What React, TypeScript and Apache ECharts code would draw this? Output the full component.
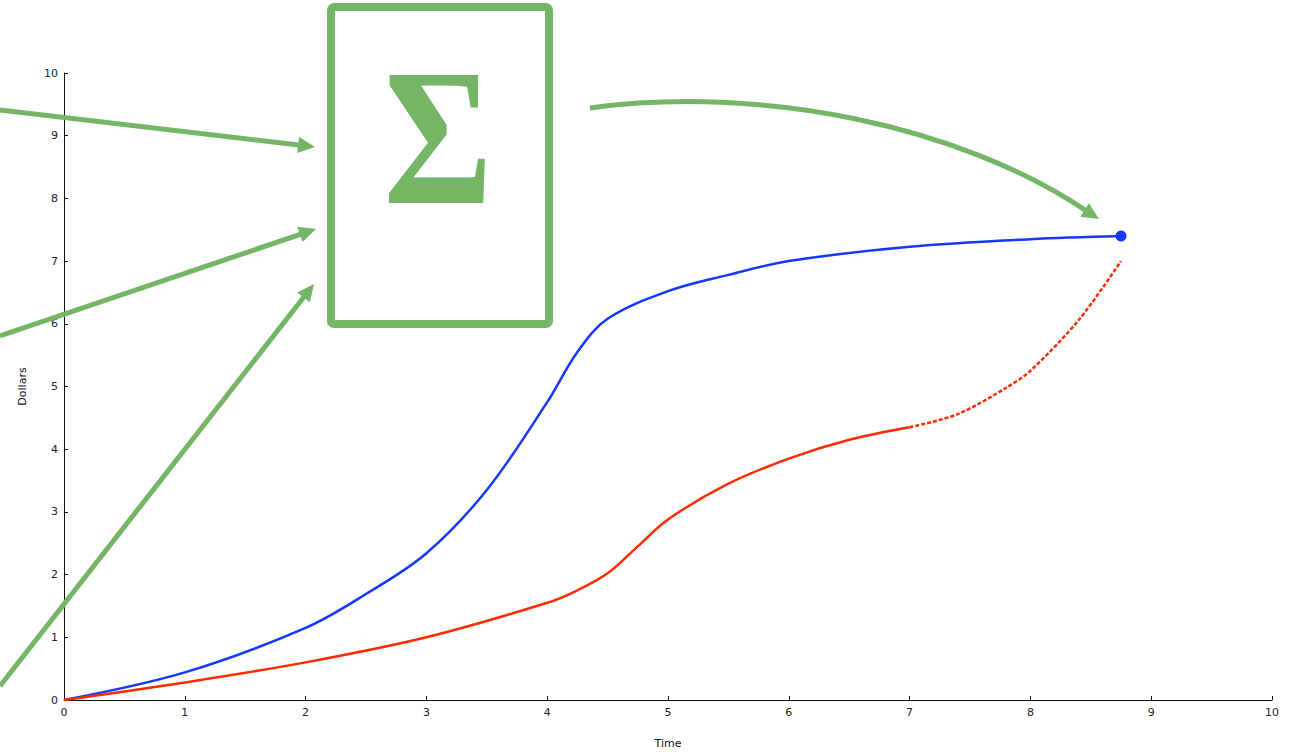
import React, { useEffect, useRef } from "react";
import * as echarts from "echarts";

const xTicks = [0, 1, 2, 3, 4, 5, 6, 7, 8, 9, 10];
const blueX = [0, 1, 2, 2.5, 3, 3.5, 4, 4.25, 4.5, 5, 5.5, 6, 7, 8, 8.75];
const blueY = [0, 0.44, 1.15, 1.69, 2.34, 3.35, 4.75, 5.55, 6.08, 6.52, 6.78, 7.0, 7.23, 7.35, 7.4];
const redX = [0, 1, 2, 3, 4, 4.25, 4.5, 4.75, 5, 5.5, 6, 6.5, 7];
const redY = [0, 0.28, 0.6, 1.0, 1.55, 1.75, 2.02, 2.45, 2.88, 3.45, 3.85, 4.15, 4.35];
const redDotX = [7, 7.4, 7.8, 8, 8.4, 8.75];
const redDotY = [4.35, 4.56, 4.98, 5.25, 6.06, 7.0];
const endPoint = [[8.75, 7.4]];

const GREEN = "#74b566";

function arrowHead(tipX: number, tipY: number, fromX: number, fromY: number, len = 17, half = 8) {
  const dx = tipX - fromX;
  const dy = tipY - fromY;
  const d = Math.sqrt(dx * dx + dy * dy);
  const ux = dx / d;
  const uy = dy / d;
  const bx = tipX - ux * len;
  const by = tipY - uy * len;
  return {
    type: "polygon",
    z: 100,
    shape: {
      points: [
        [tipX, tipY],
        [bx - uy * half, by + ux * half],
        [bx + uy * half, by - ux * half],
      ],
    },
    style: { fill: GREEN },
  };
}

function straightArrow(x1: number, y1: number, x2: number, y2: number) {
  const dx = x2 - x1;
  const dy = y2 - y1;
  const d = Math.sqrt(dx * dx + dy * dy);
  const ex = x2 - (dx / d) * 12;
  const ey = y2 - (dy / d) * 12;
  return [
    {
      type: "line",
      z: 100,
      shape: { x1, y1, x2: ex, y2: ey },
      style: { stroke: GREEN, lineWidth: 5 },
    },
    arrowHead(x2, y2, x1, y1),
  ];
}

export default function App() {
  const ref = useRef<HTMLDivElement>(null);
  useEffect(() => {
    if (!ref.current) return;
    const chart = echarts.init(ref.current, null, { renderer: "svg" });
    const axisLabel = { color: "#222", fontSize: 11, fontFamily: "DejaVu Sans" };
    const option = {
      animation: false,
      backgroundColor: "#ffffff",
      grid: { left: 64, right: 22, top: 73, bottom: 48 },
      xAxis: {
        type: "value",
        min: xTicks[0],
        max: xTicks[xTicks.length - 1],
        interval: 1,
        name: "Time",
        nameLocation: "middle",
        nameGap: 38,
        nameTextStyle: { color: "#111", fontSize: 11, fontFamily: "DejaVu Sans" },
        axisLine: { lineStyle: { color: "#111", width: 1 } },
        axisTick: { inside: true, length: 4, lineStyle: { color: "#111" } },
        axisLabel: { ...axisLabel, margin: 7 },
        splitLine: { show: false },
      },
      yAxis: {
        type: "value",
        min: 0,
        max: 10,
        interval: 1,
        name: "Dollars",
        nameLocation: "middle",
        nameGap: 36,
        nameRotate: 90,
        nameTextStyle: { color: "#111", fontSize: 11, fontFamily: "DejaVu Sans" },
        axisLine: { show: true, lineStyle: { color: "#111", width: 1 } },
        axisTick: { show: true, inside: true, length: 4, lineStyle: { color: "#111" } },
        axisLabel: { ...axisLabel, margin: 6 },
        splitLine: { show: false },
      },
      series: [
        {
          type: "line",
          data: blueX.map((x, i) => [x, blueY[i]]),
          smooth: 0.35,
          showSymbol: false,
          lineStyle: { color: "#1338ff", width: 2.5 },
        },
        {
          type: "line",
          data: redX.map((x, i) => [x, redY[i]]),
          smooth: 0.35,
          showSymbol: false,
          lineStyle: { color: "#ff2a00", width: 2.5 },
        },
        {
          type: "line",
          data: redDotX.map((x, i) => [x, redDotY[i]]),
          smooth: 0.3,
          showSymbol: false,
          lineStyle: { color: "#ff2a00", width: 2.5, type: [4, 2] },
        },
        {
          type: "scatter",
          data: endPoint,
          symbolSize: 11,
          itemStyle: { color: "#1338ff", opacity: 1 },
        },
      ],
      graphic: [
        {
          type: "rect",
          z: 100,
          shape: { x: 331, y: 7, width: 218, height: 317, r: 3 },
          style: { fill: "none", stroke: GREEN, lineWidth: 8 },
        },
        {
          type: "text",
          z: 100,
          x: 438,
          y: 138,
          scaleX: 0.86,
          style: {
            text: "Σ",
            fill: GREEN,
            font: "bold 194px 'Liberation Serif'",
            align: "center",
            verticalAlign: "middle",
          },
        },
        ...straightArrow(0, 110, 315, 147),
        ...straightArrow(0, 336, 316, 229),
        ...straightArrow(0, 686, 314, 284),
        {
          type: "bezierCurve",
          z: 100,
          shape: { x1: 590, y1: 108, cpx1: 760, cpy1: 85, cpx2: 960, cpy2: 125, x2: 1088, y2: 212 },
          style: { stroke: GREEN, lineWidth: 5, fill: "none" },
        },
        arrowHead(1099, 219, 1050, 188),
      ],
    };
    chart.setOption(option as any);
    return () => chart.dispose();
  }, []);
  return (
    <div
      ref={ref}
      style={{ position: "fixed", left: 0, top: 0, width: 1294, height: 754, background: "#fff" }}
    />
  );
}
